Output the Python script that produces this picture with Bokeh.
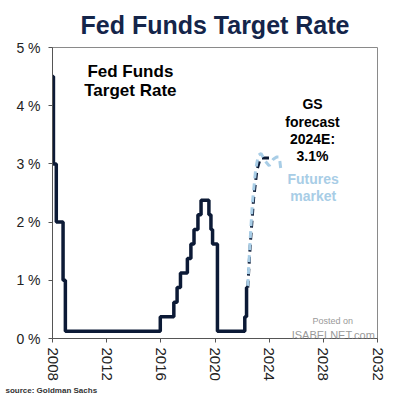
import numpy as np
from bokeh.plotting import figure
from bokeh.models import Range1d, FixedTicker, Label, Title
from bokeh.embed import file_html
from bokeh.resources import INLINE

# Fed funds target (midpoint), change dates as decimal years
ff_dates = [2008.0, 2008.07, 2008.28, 2008.78, 2008.95, 2015.96, 2016.96, 2017.2, 2017.45,
            2017.96, 2018.22, 2018.45, 2018.74, 2018.97, 2019.55, 2019.7, 2019.82, 2020.18,
            2022.2, 2022.33, 2022.42]
ff_values = [4.5, 3.0, 2.0, 1.0, 0.125, 0.375, 0.625, 0.875, 1.125,
             1.375, 1.625, 1.875, 2.125, 2.375, 2.125, 1.875, 1.625, 0.125,
             0.375, 0.875, 0.875]

gs_dates = [2022.42, 2022.6, 2022.85, 2023.1, 2023.35, 2024.0]
gs_values = [0.875, 1.6, 2.4, 2.9, 3.1, 3.1]

fut_dates = [2022.42, 2022.55, 2022.75, 2023.0, 2023.2, 2023.4, 2023.7, 2024.0, 2024.3, 2024.55, 2024.75, 2024.85]
fut_values = [0.9, 1.5, 2.3, 2.9, 3.15, 3.18, 3.05, 2.97, 3.08, 3.12, 3.12, 2.93]

x_ticks = [2008, 2012, 2016, 2020, 2024, 2028, 2032]
y_ticks = [0, 1, 2, 3, 4, 5]
y_labels = ["0 %", "1 %", "2 %", "3 %", "4 %", "5 %"]

NAVY = "#0c1a36"
LIGHT = "#a8cde6"
FONT = "Liberation Sans"

p = figure(width=394, height=397, output_backend="svg", toolbar_location=None,
           x_range=Range1d(2008, 2032), y_range=Range1d(0, 5),
           min_border_left=52, min_border_right=17, min_border_top=46, min_border_bottom=59)
p.xgrid.visible = False
p.ygrid.visible = False
p.outline_line_color = "#8a8a8a"
p.outline_line_width = 1

p.title.text = "Fed Funds Target Rate"
p.title.align = "center"
p.title.text_font = FONT
p.title.text_font_size = "25px"
p.title.text_color = "#14254a"
p.title.text_font_style = "bold"
p.title.offset = -20
p.title.standoff = 17

src = Title(text="source: Goldman Sachs", align="left", text_font=FONT, text_font_size="8px",
            text_font_style="bold", text_color="#333333", offset=-47, standoff=0)
p.add_layout(src, "below")

p.xaxis.ticker = FixedTicker(ticks=x_ticks)
p.yaxis.ticker = FixedTicker(ticks=y_ticks)
p.yaxis.major_label_overrides = {t: l for t, l in zip(y_ticks, y_labels)}
p.xaxis.major_label_orientation = "vertical"
for ax in (p.xaxis, p.yaxis):
    ax.axis_line_color = "#555555"
    ax.major_tick_line_color = "#555555"
    ax.minor_tick_line_color = None
    ax.major_tick_in = 0
    ax.major_tick_out = 4
    ax.major_label_text_font = FONT
    ax.major_label_text_color = "#222222"
p.xaxis.major_label_text_font_size = "15px"
p.yaxis.major_label_text_font_size = "14px"
p.xaxis.major_label_standoff = 5
p.yaxis.major_label_standoff = 8

# series
p.line(gs_dates, gs_values, line_color=NAVY, line_width=3, line_dash="7 5")
p.line(fut_dates, fut_values, line_color=LIGHT, line_width=3, line_dash="7 5")
p.step(ff_dates, ff_values, mode="after", line_color=NAVY, line_width=3.5)

def lab(x, y, text, size, color="#000000", weight="bold", align="center", font=FONT):
    p.add_layout(Label(x=x, y=y, text=text, text_font=font, text_font_size=size,
                       text_font_style=weight, text_color=color, text_align=align,
                       text_baseline="alphabetic"))

# in-plot labels
lab(2013.75, 4.585, "Fed Funds", "17px")
lab(2013.75, 4.265, "Target Rate", "17px")
lab(2027.2, 4.025, "GS", "14px")
lab(2027.2, 3.725, "forecast", "14px")
lab(2027.2, 3.425, "2024E:", "14px")
lab(2027.2, 3.135, "3.1%", "14px")
lab(2027.25, 2.735, "Futures", "14px", color=LIGHT)
lab(2027.25, 2.445, "market", "14px", color=LIGHT)

# watermark
lab(2027.2, 0.3, "Posted on", "9px", color="#9a9a9a", weight="normal", align="left")
lab(2031.8, 0.06, "ISABELNET.com", "11px", color="#9a9a9a", weight="normal", align="right")

open("out.html", "w").write(file_html(p, INLINE))
